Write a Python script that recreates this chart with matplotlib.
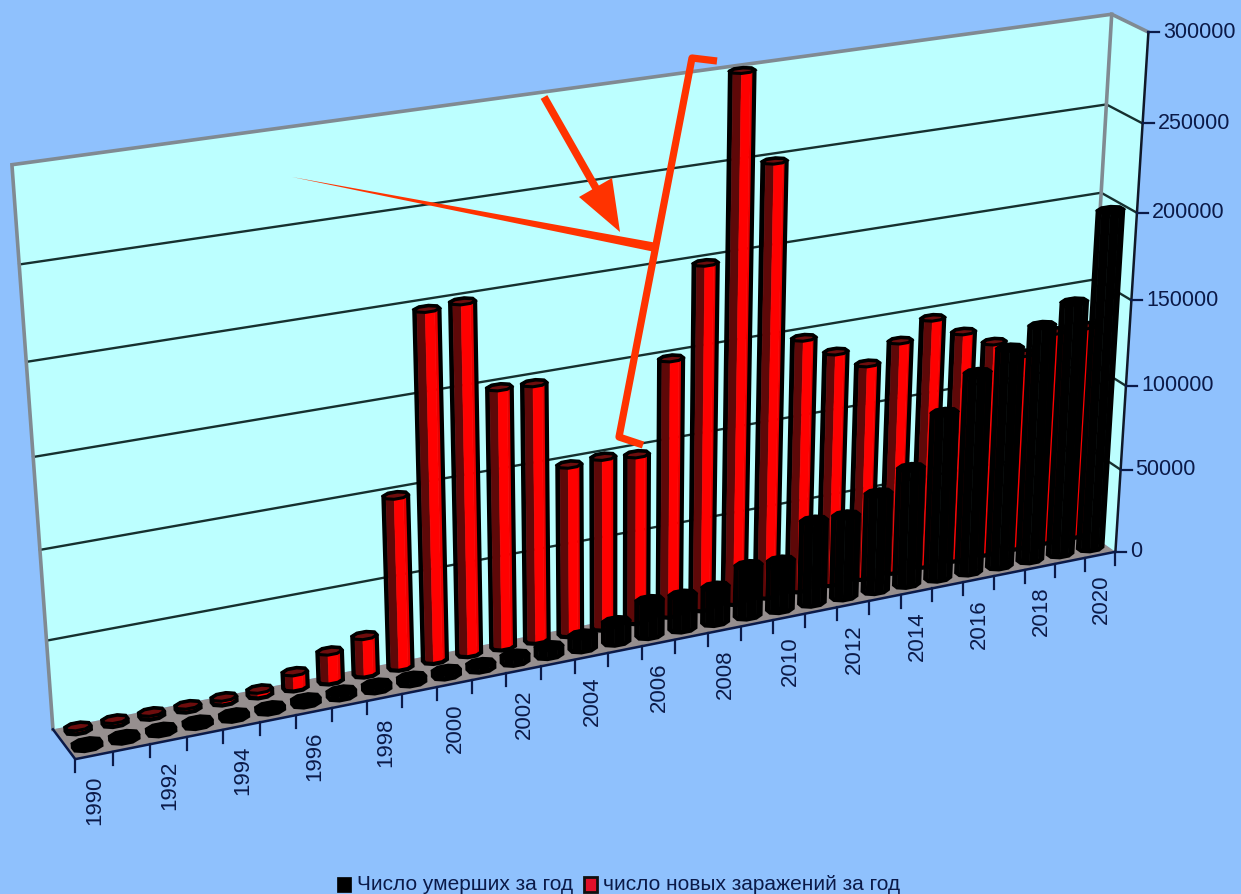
import numpy as np
import matplotlib
matplotlib.use("Agg")
import matplotlib.pyplot as plt
from matplotlib.patches import Polygon

plt.rcParams['font.family'] = ['Liberation Sans', 'DejaVu Sans']

years = list(range(1990, 2021))
new_cases = [2000, 2000, 2000, 2000, 2500, 3000, 9000, 17000, 22000, 98000, 197000,
             198000, 148000, 147000, 98000, 99000, 97000, 148000, 198000, 299000,
             248000, 147000, 136000, 126000, 136000, 146000, 135000, 126000,
             116000, 126000, 126000]
deaths = [2000, 2000, 2000, 2000, 2000, 2000, 2500, 3000, 3000, 3000, 3000, 3000, 4000,
          5000, 8000, 12000, 20600, 20000, 21000, 30000, 29000, 49000, 48500,
          58000, 69500, 98500, 118500, 129500, 139500, 150000, 199500]
value_ticks = [0, 50000, 100000, 150000, 200000, 250000, 300000]
year_labels = years[::2]
legend_names = ['Число умерших за год', 'число новых заражений за год']

BG = '#8fc1fd'
WALL = '#bcffff'
FLOOR = '#968f8f'
EDGE = '#808a92'
GRID = '#16302f'
AXIS = '#0b1a48'
MARK = '#ff3300'
VMAX = 300000.0
NCAT = len(years)

# Camera calibration: (category, value, depth) -> pixel, solved by DLT.
# depth 0 is the back wall, depth 1 the front edge of the floor.
calib = [
    ((0, 0, 0), (53, 727)), ((NCAT, 0, 0), (1081, 531)),
    ((NCAT, VMAX, 0), (1112, 13)), ((0, VMAX, 0), (12, 165)),
    ((0, 0, 1), (76, 760)), ((NCAT, 0, 1), (1115, 549)),
    ((NCAT, VMAX, 1), (1148, 33)), ((NCAT, 200000, 1), (1137, 213)),
    ((6, 0, 1), (294, 717)), ((21, 0, 1), (807, 613)),
]
rows = []
for (c, v, d), (px, py) in calib:
    X = [c / NCAT, v / VMAX, d, 1.0]
    rows.append(X + [0, 0, 0, 0] + [-px * t for t in X])
    rows.append([0, 0, 0, 0] + X + [-py * t for t in X])
CAM = np.linalg.svd(np.array(rows))[2][-1].reshape(3, 4)


def project(c, v, d):
    c, v, d = np.broadcast_arrays(np.asarray(c, float), np.asarray(v, float), np.asarray(d, float))
    h = CAM @ np.stack([c / NCAT, v / VMAX, d, np.ones_like(c)])
    return np.stack([h[0] / h[2], h[1] / h[2]], axis=-1)


def hull(pts):
    pts = sorted(map(tuple, pts))
    def half(seq):
        out = []
        for p in seq:
            while len(out) > 1 and (out[-1][0]-out[-2][0])*(p[1]-out[-2][1]) - (out[-1][1]-out[-2][1])*(p[0]-out[-2][0]) <= 0:
                out.pop()
            out.append(p)
        return out[:-1]
    return half(pts) + half(pts[::-1])


fig = plt.figure(figsize=(12.41, 8.94), dpi=100, facecolor=BG)
ax = fig.add_axes([0, 0, 1, 1])
ax.set_xlim(0, 1241)
ax.set_ylim(894, 0)
ax.axis('off')

# Walls and floor
ax.add_patch(Polygon(project([0, NCAT, NCAT, 0], [0, 0, VMAX, VMAX], 0), fc=WALL, ec='none', zorder=1))
ax.add_patch(Polygon(project(NCAT, [0, VMAX, VMAX, 0], [0, 0, 1, 1]), fc=WALL, ec='none', zorder=1))
ax.add_patch(Polygon(project([0, NCAT, NCAT, 0], 0, [0, 0, 1, 1]), fc=FLOOR, ec='none', zorder=1))

# Gridlines run along the back wall and round the side wall
for v in value_ticks[1:-1]:
    line = project([0, NCAT, NCAT], v, [0, 0, 1])
    ax.plot(line[:, 0], line[:, 1], color=GRID, lw=1.7, zorder=2)

# Grey frame of the walls
frame = project([0, 0, NCAT, NCAT], [0, VMAX, VMAX, VMAX], [0, 0, 0, 1])
ax.plot(frame[:, 0], frame[:, 1], color=EDGE, lw=2.6, zorder=3, solid_joinstyle='miter')
back = project(NCAT, [0, VMAX], 0)
ax.plot(back[:, 0], back[:, 1], color=EDGE, lw=2.6, zorder=2)

FACE_RED = {180: '#000000', 135: '#5e0808', 90: '#ff0000', 45: '#e80000', 0: '#1a0000'}
ANGLES = np.radians(np.arange(8) * 45 + 22.5)


def draw_bar(center, value, depth, ru, rw, red, z):
    cx = center + ru * np.cos(ANGLES)
    dz = depth + rw * np.sin(ANGLES)
    base = project(cx, 0, dz)
    top = project(cx, value, dz)
    order = sorted(range(8), key=lambda k: dz[k] + dz[(k + 1) % 8])
    for k in order:
        n = (k + 1) % 8
        normal = int(round(np.degrees(ANGLES[k] + np.pi / 8))) % 360
        if normal > 180:
            continue
        color = FACE_RED[normal] if red else '#000000'
        ax.add_patch(Polygon([base[k], base[n], top[n], top[k]], fc=color, ec=color, lw=0.4, zorder=z))
    ax.add_patch(Polygon(hull(np.vstack([base, top])), fc='none', ec='#000000', lw=3.0, zorder=z))
    ax.add_patch(Polygon(top, fc='#6e0d0d' if red else '#000000', ec='#000000', lw=2.2, zorder=z))


for i, v in enumerate(new_cases):
    draw_bar(i + 0.58, v, 0.17, 0.34, 0.12, True, 5)
for i, v in enumerate(deaths):
    draw_bar(i + 0.5, v, 0.70, 0.38, 0.13, False, 6)

# Axis lines and ticks
edge = project([0, 0, NCAT], 0, [0, 1, 1])
ax.plot(edge[:, 0], edge[:, 1], color=AXIS, lw=1.8, zorder=7)
side = project(NCAT, [0, VMAX], 1)
ax.plot(side[:, 0], side[:, 1], color='#101828', lw=1.8, zorder=7)
for i in range(NCAT + 1):
    x0, y0 = project(i, 0, 1)
    ax.plot([x0, x0], [y0, y0 + 13], color=AXIS, lw=1.6, zorder=7)
for v in value_ticks:
    x0, y0 = project(NCAT, v, 1)
    ax.plot([x0, x0 + 11], [y0, y0], color=AXIS, lw=1.6, zorder=7)
    ax.text(x0 + 15, y0, str(v), color=AXIS, fontsize=15.5, ha='left', va='center', zorder=8)

for yr in year_labels:
    i = years.index(yr)
    x0, y0 = project(i + 0.5, 0, 1)
    ax.text(x0 + 1, y0 + 20, str(yr), color=AXIS, fontsize=16, rotation=90, ha='center', va='top', zorder=8)

# Legend
ax.add_patch(Polygon([(337, 877), (351, 877), (351, 892), (337, 892)], fc='#000000', ec='#000000', lw=0.5))
ax.text(357, 884, legend_names[0], color=AXIS, fontsize=15, ha='left', va='center')
ax.add_patch(Polygon([(584, 877), (597, 877), (597, 892), (584, 892)], fc='#e0102a', ec='#101010', lw=2))
ax.text(603, 884, legend_names[1], color=AXIS, fontsize=15, ha='left', va='center')

# Hand-drawn emphasis: bracket, tapered pointer and arrow
ax.plot([717, 692, 656, 619, 643], [61, 58, 245, 437, 445], color=MARK, lw=5.2, zorder=10,
        solid_joinstyle='round', solid_capstyle='butt')
ax.add_patch(Polygon([(292, 177), (657, 243), (655, 252)], fc=MARK, ec='none', zorder=10))
ax.plot([544, 597], [97, 190], color=MARK, lw=5.5, zorder=10, solid_capstyle='butt')
ax.add_patch(Polygon([(620, 232), (579, 197), (612, 178)], fc=MARK, ec='none', zorder=10))

fig.savefig('out.png', dpi=100, facecolor=BG)
